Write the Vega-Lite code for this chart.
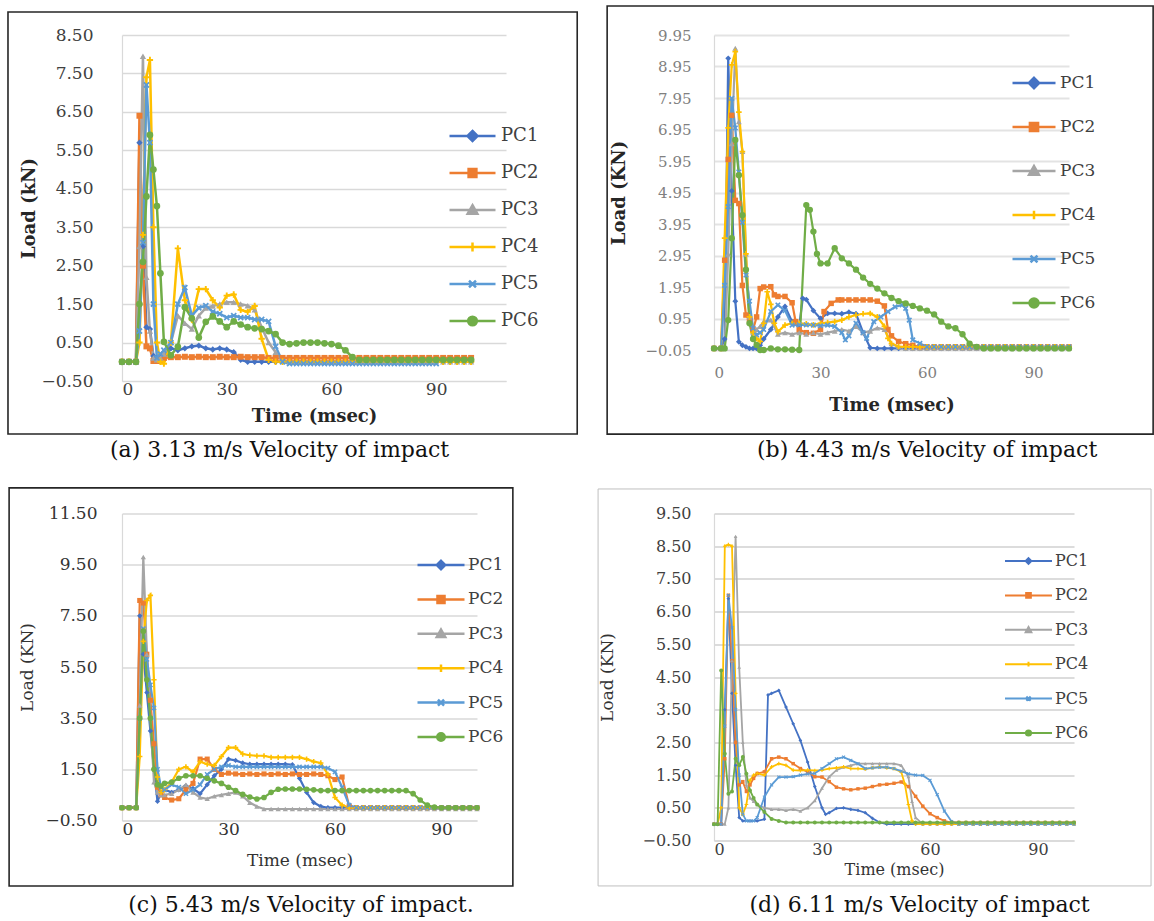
{
"$schema":"https://vega.github.io/schema/vega-lite/v6.json",
"padding":{"left":7,"top":5,"right":1,"bottom":1},
"autosize":{"type":"pad"},
"background":"white",
"config":{
 "view":{"stroke":null},
 "font":"DejaVu Serif",
 "axis":{"labelFont":"DejaVu Serif","titleFont":"DejaVu Serif","ticks":false,"labelOverlap":false,"tickCount":40,"domainColor":"#D9D9D9","domainWidth":1.2,"gridColor":"#D9D9D9","gridWidth":1.3},
 "axisX":{"grid":false},
 "legend":{"labelFont":"DejaVu Serif","labelColor":"#404040","symbolOpacity":1},
 "title":{"font":"DejaVu Serif","fontWeight":"normal","color":"#111111","fontSize":22,"frame":"bounds","orient":"bottom","anchor":"middle"}
},
"datasets":{
"a":[
{"t":0,"s":"PC1","v":0},{"t":2,"s":"PC1","v":0},{"t":4,"s":"PC1","v":0},{"t":5,"s":"PC1","v":5.7},{"t":6,"s":"PC1","v":3},{"t":7,"s":"PC1","v":0.9},{"t":8,"s":"PC1","v":0.85},{"t":9,"s":"PC1","v":0.15},{"t":10,"s":"PC1","v":0.05},{"t":11,"s":"PC1","v":0.1},{"t":12,"s":"PC1","v":0.15},{"t":14,"s":"PC1","v":0.35},{"t":16,"s":"PC1","v":0.3},{"t":18,"s":"PC1","v":0.35},{"t":20,"s":"PC1","v":0.4},{"t":22,"s":"PC1","v":0.42},{"t":24,"s":"PC1","v":0.35},{"t":26,"s":"PC1","v":0.32},{"t":28,"s":"PC1","v":0.35},{"t":30,"s":"PC1","v":0.32},{"t":32,"s":"PC1","v":0.25},{"t":34,"s":"PC1","v":0.05},{"t":36,"s":"PC1","v":0},{"t":38,"s":"PC1","v":0},{"t":40,"s":"PC1","v":0},{"t":42,"s":"PC1","v":0},{"t":44,"s":"PC1","v":0},{"t":46,"s":"PC1","v":0},{"t":48,"s":"PC1","v":0},{"t":50,"s":"PC1","v":0},{"t":52,"s":"PC1","v":0},{"t":54,"s":"PC1","v":0},{"t":56,"s":"PC1","v":0},{"t":58,"s":"PC1","v":0},{"t":60,"s":"PC1","v":0},{"t":62,"s":"PC1","v":0},{"t":64,"s":"PC1","v":0},{"t":66,"s":"PC1","v":0},{"t":68,"s":"PC1","v":0},{"t":70,"s":"PC1","v":0},{"t":72,"s":"PC1","v":0},{"t":74,"s":"PC1","v":0},{"t":76,"s":"PC1","v":0},{"t":78,"s":"PC1","v":0},{"t":80,"s":"PC1","v":0},{"t":82,"s":"PC1","v":0},{"t":84,"s":"PC1","v":0},{"t":86,"s":"PC1","v":0},{"t":88,"s":"PC1","v":0},{"t":90,"s":"PC1","v":0},{"t":92,"s":"PC1","v":0},{"t":94,"s":"PC1","v":0},{"t":96,"s":"PC1","v":0},{"t":98,"s":"PC1","v":0},{"t":100,"s":"PC1","v":0},
{"t":0,"s":"PC2","v":0},{"t":2,"s":"PC2","v":0},{"t":4,"s":"PC2","v":0},{"t":5,"s":"PC2","v":6.4},{"t":6,"s":"PC2","v":2.5},{"t":7,"s":"PC2","v":0.4},{"t":8,"s":"PC2","v":0.35},{"t":9,"s":"PC2","v":0.02},{"t":10,"s":"PC2","v":0.02},{"t":11,"s":"PC2","v":0.05},{"t":12,"s":"PC2","v":0.1},{"t":14,"s":"PC2","v":0.12},{"t":16,"s":"PC2","v":0.12},{"t":18,"s":"PC2","v":0.13},{"t":20,"s":"PC2","v":0.12},{"t":22,"s":"PC2","v":0.13},{"t":24,"s":"PC2","v":0.12},{"t":26,"s":"PC2","v":0.12},{"t":28,"s":"PC2","v":0.13},{"t":30,"s":"PC2","v":0.12},{"t":32,"s":"PC2","v":0.12},{"t":34,"s":"PC2","v":0.13},{"t":36,"s":"PC2","v":0.12},{"t":38,"s":"PC2","v":0.12},{"t":40,"s":"PC2","v":0.12},{"t":42,"s":"PC2","v":0.1},{"t":44,"s":"PC2","v":0.1},{"t":46,"s":"PC2","v":0.1},{"t":48,"s":"PC2","v":0.1},{"t":50,"s":"PC2","v":0.1},{"t":52,"s":"PC2","v":0.1},{"t":54,"s":"PC2","v":0.1},{"t":56,"s":"PC2","v":0.1},{"t":58,"s":"PC2","v":0.1},{"t":60,"s":"PC2","v":0.1},{"t":62,"s":"PC2","v":0.1},{"t":64,"s":"PC2","v":0.1},{"t":66,"s":"PC2","v":0.1},{"t":68,"s":"PC2","v":0.1},{"t":70,"s":"PC2","v":0.1},{"t":72,"s":"PC2","v":0.1},{"t":74,"s":"PC2","v":0.1},{"t":76,"s":"PC2","v":0.1},{"t":78,"s":"PC2","v":0.1},{"t":80,"s":"PC2","v":0.1},{"t":82,"s":"PC2","v":0.1},{"t":84,"s":"PC2","v":0.1},{"t":86,"s":"PC2","v":0.1},{"t":88,"s":"PC2","v":0.1},{"t":90,"s":"PC2","v":0.1},{"t":92,"s":"PC2","v":0.1},{"t":94,"s":"PC2","v":0.1},{"t":96,"s":"PC2","v":0.1},{"t":98,"s":"PC2","v":0.1},{"t":100,"s":"PC2","v":0.1},
{"t":0,"s":"PC3","v":0},{"t":2,"s":"PC3","v":0},{"t":4,"s":"PC3","v":0},{"t":5,"s":"PC3","v":3},{"t":6,"s":"PC3","v":7.95},{"t":7,"s":"PC3","v":2.2},{"t":8,"s":"PC3","v":0.8},{"t":9,"s":"PC3","v":0.1},{"t":10,"s":"PC3","v":0.05},{"t":11,"s":"PC3","v":0.1},{"t":12,"s":"PC3","v":0.2},{"t":14,"s":"PC3","v":0.5},{"t":16,"s":"PC3","v":1.2},{"t":18,"s":"PC3","v":1},{"t":20,"s":"PC3","v":0.85},{"t":22,"s":"PC3","v":1.2},{"t":24,"s":"PC3","v":1.4},{"t":26,"s":"PC3","v":1.45},{"t":28,"s":"PC3","v":1.5},{"t":30,"s":"PC3","v":1.55},{"t":32,"s":"PC3","v":1.55},{"t":34,"s":"PC3","v":1.5},{"t":36,"s":"PC3","v":1.46},{"t":38,"s":"PC3","v":1.35},{"t":40,"s":"PC3","v":0.9},{"t":42,"s":"PC3","v":0.5},{"t":44,"s":"PC3","v":0.25},{"t":46,"s":"PC3","v":0.02},{"t":48,"s":"PC3","v":0},{"t":50,"s":"PC3","v":0},{"t":52,"s":"PC3","v":0},{"t":54,"s":"PC3","v":0},{"t":56,"s":"PC3","v":0},{"t":58,"s":"PC3","v":0},{"t":60,"s":"PC3","v":0},{"t":62,"s":"PC3","v":0},{"t":64,"s":"PC3","v":0},{"t":66,"s":"PC3","v":0},{"t":68,"s":"PC3","v":0},{"t":70,"s":"PC3","v":0},{"t":72,"s":"PC3","v":0},{"t":74,"s":"PC3","v":0},{"t":76,"s":"PC3","v":0},{"t":78,"s":"PC3","v":0},{"t":80,"s":"PC3","v":0},{"t":82,"s":"PC3","v":0},{"t":84,"s":"PC3","v":0},{"t":86,"s":"PC3","v":0},{"t":88,"s":"PC3","v":0},{"t":90,"s":"PC3","v":0},{"t":92,"s":"PC3","v":0},{"t":94,"s":"PC3","v":0},{"t":96,"s":"PC3","v":0},{"t":98,"s":"PC3","v":0},{"t":100,"s":"PC3","v":0},
{"t":0,"s":"PC4","v":0},{"t":2,"s":"PC4","v":0},{"t":4,"s":"PC4","v":0},{"t":5,"s":"PC4","v":0.5},{"t":6,"s":"PC4","v":3.3},{"t":7,"s":"PC4","v":7.4},{"t":8,"s":"PC4","v":7.85},{"t":9,"s":"PC4","v":3.5},{"t":10,"s":"PC4","v":0.5},{"t":11,"s":"PC4","v":0},{"t":12,"s":"PC4","v":-0.05},{"t":14,"s":"PC4","v":0.5},{"t":16,"s":"PC4","v":2.95},{"t":18,"s":"PC4","v":1.6},{"t":20,"s":"PC4","v":1.1},{"t":22,"s":"PC4","v":1.89},{"t":24,"s":"PC4","v":1.89},{"t":26,"s":"PC4","v":1.6},{"t":28,"s":"PC4","v":1.41},{"t":30,"s":"PC4","v":1.72},{"t":32,"s":"PC4","v":1.75},{"t":34,"s":"PC4","v":1.35},{"t":36,"s":"PC4","v":1.3},{"t":38,"s":"PC4","v":1.45},{"t":40,"s":"PC4","v":0.6},{"t":42,"s":"PC4","v":0.05},{"t":44,"s":"PC4","v":0},{"t":46,"s":"PC4","v":0},{"t":48,"s":"PC4","v":0},{"t":50,"s":"PC4","v":0},{"t":52,"s":"PC4","v":0},{"t":54,"s":"PC4","v":0},{"t":56,"s":"PC4","v":0},{"t":58,"s":"PC4","v":0},{"t":60,"s":"PC4","v":0},{"t":62,"s":"PC4","v":0},{"t":64,"s":"PC4","v":0},{"t":66,"s":"PC4","v":0},{"t":68,"s":"PC4","v":0},{"t":70,"s":"PC4","v":0},{"t":72,"s":"PC4","v":0},{"t":74,"s":"PC4","v":0},{"t":76,"s":"PC4","v":0},{"t":78,"s":"PC4","v":0},{"t":80,"s":"PC4","v":0},{"t":82,"s":"PC4","v":0},{"t":84,"s":"PC4","v":0},{"t":86,"s":"PC4","v":0},{"t":88,"s":"PC4","v":0},{"t":90,"s":"PC4","v":0},{"t":92,"s":"PC4","v":0},{"t":94,"s":"PC4","v":0},{"t":96,"s":"PC4","v":0},{"t":98,"s":"PC4","v":0},{"t":100,"s":"PC4","v":0},
{"t":0,"s":"PC5","v":0},{"t":2,"s":"PC5","v":0},{"t":4,"s":"PC5","v":0},{"t":5,"s":"PC5","v":0.8},{"t":6,"s":"PC5","v":3.1},{"t":7,"s":"PC5","v":7.2},{"t":8,"s":"PC5","v":5.7},{"t":9,"s":"PC5","v":1.5},{"t":10,"s":"PC5","v":0.1},{"t":11,"s":"PC5","v":0.2},{"t":12,"s":"PC5","v":0.3},{"t":14,"s":"PC5","v":0.5},{"t":16,"s":"PC5","v":1.5},{"t":18,"s":"PC5","v":1.93},{"t":20,"s":"PC5","v":1.2},{"t":22,"s":"PC5","v":1.4},{"t":24,"s":"PC5","v":1.46},{"t":26,"s":"PC5","v":1.3},{"t":28,"s":"PC5","v":1.25},{"t":30,"s":"PC5","v":1.15},{"t":32,"s":"PC5","v":1.2},{"t":34,"s":"PC5","v":1.15},{"t":36,"s":"PC5","v":1.15},{"t":38,"s":"PC5","v":1.1},{"t":40,"s":"PC5","v":1.1},{"t":42,"s":"PC5","v":1.05},{"t":44,"s":"PC5","v":0.4},{"t":46,"s":"PC5","v":0},{"t":48,"s":"PC5","v":-0.05},{"t":50,"s":"PC5","v":-0.05},{"t":52,"s":"PC5","v":-0.05},{"t":54,"s":"PC5","v":-0.05},{"t":56,"s":"PC5","v":-0.05},{"t":58,"s":"PC5","v":-0.05},{"t":60,"s":"PC5","v":-0.05},{"t":62,"s":"PC5","v":-0.05},{"t":64,"s":"PC5","v":-0.05},{"t":66,"s":"PC5","v":-0.05},{"t":68,"s":"PC5","v":-0.05},{"t":70,"s":"PC5","v":-0.05},{"t":72,"s":"PC5","v":-0.05},{"t":74,"s":"PC5","v":-0.05},{"t":76,"s":"PC5","v":-0.05},{"t":78,"s":"PC5","v":-0.05},{"t":80,"s":"PC5","v":-0.05},{"t":82,"s":"PC5","v":-0.05},{"t":84,"s":"PC5","v":-0.05},{"t":86,"s":"PC5","v":-0.05},{"t":88,"s":"PC5","v":-0.05},{"t":90,"s":"PC5","v":-0.05},
{"t":0,"s":"PC6","v":0},{"t":2,"s":"PC6","v":0},{"t":4,"s":"PC6","v":0},{"t":5,"s":"PC6","v":1.5},{"t":6,"s":"PC6","v":2.6},{"t":7,"s":"PC6","v":4.3},{"t":8,"s":"PC6","v":5.9},{"t":9,"s":"PC6","v":5},{"t":10,"s":"PC6","v":4.05},{"t":11,"s":"PC6","v":2.3},{"t":12,"s":"PC6","v":0.52},{"t":14,"s":"PC6","v":0.17},{"t":16,"s":"PC6","v":0.39},{"t":18,"s":"PC6","v":1.42},{"t":20,"s":"PC6","v":1.13},{"t":22,"s":"PC6","v":0.63},{"t":24,"s":"PC6","v":1.04},{"t":26,"s":"PC6","v":1.18},{"t":28,"s":"PC6","v":1.05},{"t":30,"s":"PC6","v":0.9},{"t":32,"s":"PC6","v":1.05},{"t":34,"s":"PC6","v":0.97},{"t":36,"s":"PC6","v":0.9},{"t":38,"s":"PC6","v":0.87},{"t":40,"s":"PC6","v":0.85},{"t":42,"s":"PC6","v":0.8},{"t":44,"s":"PC6","v":0.72},{"t":46,"s":"PC6","v":0.5},{"t":48,"s":"PC6","v":0.46},{"t":50,"s":"PC6","v":0.48},{"t":52,"s":"PC6","v":0.5},{"t":54,"s":"PC6","v":0.5},{"t":56,"s":"PC6","v":0.5},{"t":58,"s":"PC6","v":0.48},{"t":60,"s":"PC6","v":0.46},{"t":62,"s":"PC6","v":0.42},{"t":64,"s":"PC6","v":0.3},{"t":66,"s":"PC6","v":0.12},{"t":68,"s":"PC6","v":0.05},{"t":70,"s":"PC6","v":0.05},{"t":72,"s":"PC6","v":0.05},{"t":74,"s":"PC6","v":0.05},{"t":76,"s":"PC6","v":0.05},{"t":78,"s":"PC6","v":0.05},{"t":80,"s":"PC6","v":0.05},{"t":82,"s":"PC6","v":0.05},{"t":84,"s":"PC6","v":0.05},{"t":86,"s":"PC6","v":0.05},{"t":88,"s":"PC6","v":0.05},{"t":90,"s":"PC6","v":0.05},{"t":92,"s":"PC6","v":0.05},{"t":94,"s":"PC6","v":0.05},{"t":96,"s":"PC6","v":0.05},{"t":98,"s":"PC6","v":0.05},{"t":100,"s":"PC6","v":0.05}
],
"b":[
{"t":0,"s":"PC1","v":0},{"t":2,"s":"PC1","v":0},{"t":3,"s":"PC1","v":0.3},{"t":4,"s":"PC1","v":9.21},{"t":5,"s":"PC1","v":5},{"t":6,"s":"PC1","v":1.5},{"t":7,"s":"PC1","v":0.21},{"t":8,"s":"PC1","v":0.1},{"t":9,"s":"PC1","v":0.05},{"t":10,"s":"PC1","v":0},{"t":11,"s":"PC1","v":0},{"t":12,"s":"PC1","v":0},{"t":13,"s":"PC1","v":0.1},{"t":14,"s":"PC1","v":0.3},{"t":16,"s":"PC1","v":0.6},{"t":18,"s":"PC1","v":1},{"t":20,"s":"PC1","v":1.33},{"t":22,"s":"PC1","v":0.85},{"t":24,"s":"PC1","v":0.7},{"t":25,"s":"PC1","v":1.59},{"t":26,"s":"PC1","v":1.55},{"t":28,"s":"PC1","v":1.2},{"t":30,"s":"PC1","v":0.95},{"t":32,"s":"PC1","v":1.11},{"t":34,"s":"PC1","v":1.11},{"t":36,"s":"PC1","v":1.1},{"t":38,"s":"PC1","v":1.15},{"t":40,"s":"PC1","v":1.1},{"t":42,"s":"PC1","v":0.5},{"t":44,"s":"PC1","v":0.02},{"t":46,"s":"PC1","v":0},{"t":48,"s":"PC1","v":0},{"t":50,"s":"PC1","v":0},{"t":52,"s":"PC1","v":0},{"t":54,"s":"PC1","v":0},{"t":56,"s":"PC1","v":0},{"t":58,"s":"PC1","v":0},{"t":60,"s":"PC1","v":0},{"t":62,"s":"PC1","v":0},{"t":64,"s":"PC1","v":0},{"t":66,"s":"PC1","v":0},{"t":68,"s":"PC1","v":0},{"t":70,"s":"PC1","v":0},{"t":72,"s":"PC1","v":0},{"t":74,"s":"PC1","v":0},{"t":76,"s":"PC1","v":0},{"t":78,"s":"PC1","v":0},{"t":80,"s":"PC1","v":0},{"t":82,"s":"PC1","v":0},{"t":84,"s":"PC1","v":0},{"t":86,"s":"PC1","v":0},{"t":88,"s":"PC1","v":0},{"t":90,"s":"PC1","v":0},{"t":92,"s":"PC1","v":0},{"t":94,"s":"PC1","v":0},{"t":96,"s":"PC1","v":0},{"t":98,"s":"PC1","v":0},{"t":100,"s":"PC1","v":0},
{"t":0,"s":"PC2","v":0},{"t":2,"s":"PC2","v":0},{"t":3,"s":"PC2","v":2.8},{"t":4,"s":"PC2","v":6},{"t":5,"s":"PC2","v":7.4},{"t":6,"s":"PC2","v":4.7},{"t":7,"s":"PC2","v":4.6},{"t":8,"s":"PC2","v":2},{"t":9,"s":"PC2","v":1.06},{"t":10,"s":"PC2","v":0.9},{"t":11,"s":"PC2","v":0.6},{"t":12,"s":"PC2","v":1},{"t":13,"s":"PC2","v":1.9},{"t":14,"s":"PC2","v":1.95},{"t":16,"s":"PC2","v":1.96},{"t":17,"s":"PC2","v":1.7},{"t":18,"s":"PC2","v":1.65},{"t":20,"s":"PC2","v":1.65},{"t":22,"s":"PC2","v":1.45},{"t":23,"s":"PC2","v":0.85},{"t":24,"s":"PC2","v":0.6},{"t":26,"s":"PC2","v":0.5},{"t":28,"s":"PC2","v":0.48},{"t":30,"s":"PC2","v":0.6},{"t":31,"s":"PC2","v":1.17},{"t":33,"s":"PC2","v":1.43},{"t":35,"s":"PC2","v":1.54},{"t":36,"s":"PC2","v":1.54},{"t":38,"s":"PC2","v":1.54},{"t":40,"s":"PC2","v":1.54},{"t":42,"s":"PC2","v":1.54},{"t":44,"s":"PC2","v":1.54},{"t":46,"s":"PC2","v":1.5},{"t":48,"s":"PC2","v":1.35},{"t":49,"s":"PC2","v":0.6},{"t":50,"s":"PC2","v":0.4},{"t":52,"s":"PC2","v":0.22},{"t":54,"s":"PC2","v":0.15},{"t":56,"s":"PC2","v":0.1},{"t":58,"s":"PC2","v":0.05},{"t":60,"s":"PC2","v":0.05},{"t":62,"s":"PC2","v":0.05},{"t":64,"s":"PC2","v":0.05},{"t":66,"s":"PC2","v":0.05},{"t":68,"s":"PC2","v":0.05},{"t":70,"s":"PC2","v":0.05},{"t":72,"s":"PC2","v":0.05},{"t":74,"s":"PC2","v":0.05},{"t":76,"s":"PC2","v":0.05},{"t":78,"s":"PC2","v":0.05},{"t":80,"s":"PC2","v":0.05},{"t":82,"s":"PC2","v":0.05},{"t":84,"s":"PC2","v":0.05},{"t":86,"s":"PC2","v":0.05},{"t":88,"s":"PC2","v":0.05},{"t":90,"s":"PC2","v":0.05},{"t":92,"s":"PC2","v":0.05},{"t":94,"s":"PC2","v":0.05},{"t":96,"s":"PC2","v":0.05},{"t":98,"s":"PC2","v":0.05},{"t":100,"s":"PC2","v":0.05},
{"t":0,"s":"PC3","v":0},{"t":2,"s":"PC3","v":0},{"t":3,"s":"PC3","v":0},{"t":4,"s":"PC3","v":3},{"t":5,"s":"PC3","v":6.5},{"t":6,"s":"PC3","v":9.53},{"t":7,"s":"PC3","v":7.2},{"t":8,"s":"PC3","v":6.25},{"t":9,"s":"PC3","v":3},{"t":10,"s":"PC3","v":1},{"t":11,"s":"PC3","v":0.5},{"t":12,"s":"PC3","v":0.6},{"t":13,"s":"PC3","v":0.7},{"t":14,"s":"PC3","v":0.85},{"t":16,"s":"PC3","v":0.9},{"t":18,"s":"PC3","v":0.45},{"t":20,"s":"PC3","v":0.5},{"t":22,"s":"PC3","v":0.45},{"t":24,"s":"PC3","v":0.5},{"t":26,"s":"PC3","v":0.45},{"t":28,"s":"PC3","v":0.5},{"t":30,"s":"PC3","v":0.45},{"t":32,"s":"PC3","v":0.5},{"t":34,"s":"PC3","v":0.55},{"t":36,"s":"PC3","v":0.6},{"t":38,"s":"PC3","v":0.55},{"t":40,"s":"PC3","v":0.7},{"t":42,"s":"PC3","v":0.5},{"t":44,"s":"PC3","v":0.55},{"t":46,"s":"PC3","v":0.65},{"t":48,"s":"PC3","v":0.6},{"t":50,"s":"PC3","v":0.15},{"t":52,"s":"PC3","v":0.05},{"t":54,"s":"PC3","v":0},{"t":56,"s":"PC3","v":0},{"t":58,"s":"PC3","v":0},{"t":60,"s":"PC3","v":0},{"t":62,"s":"PC3","v":0},{"t":64,"s":"PC3","v":0},{"t":66,"s":"PC3","v":0},{"t":68,"s":"PC3","v":0},{"t":70,"s":"PC3","v":0},{"t":72,"s":"PC3","v":0},{"t":74,"s":"PC3","v":0},{"t":76,"s":"PC3","v":0},{"t":78,"s":"PC3","v":0},{"t":80,"s":"PC3","v":0},{"t":82,"s":"PC3","v":0},{"t":84,"s":"PC3","v":0},{"t":86,"s":"PC3","v":0},{"t":88,"s":"PC3","v":0},{"t":90,"s":"PC3","v":0},{"t":92,"s":"PC3","v":0},{"t":94,"s":"PC3","v":0},{"t":96,"s":"PC3","v":0},{"t":98,"s":"PC3","v":0},{"t":100,"s":"PC3","v":0},
{"t":0,"s":"PC4","v":0},{"t":2,"s":"PC4","v":0},{"t":3,"s":"PC4","v":3.5},{"t":4,"s":"PC4","v":7},{"t":5,"s":"PC4","v":9},{"t":6,"s":"PC4","v":9.42},{"t":7,"s":"PC4","v":7.5},{"t":8,"s":"PC4","v":6.25},{"t":9,"s":"PC4","v":3},{"t":10,"s":"PC4","v":1},{"t":11,"s":"PC4","v":0.5},{"t":12,"s":"PC4","v":0.32},{"t":13,"s":"PC4","v":0.22},{"t":14,"s":"PC4","v":0.8},{"t":15,"s":"PC4","v":1.8},{"t":16,"s":"PC4","v":1.4},{"t":17,"s":"PC4","v":0.8},{"t":18,"s":"PC4","v":0.53},{"t":20,"s":"PC4","v":0.74},{"t":22,"s":"PC4","v":0.8},{"t":24,"s":"PC4","v":0.8},{"t":26,"s":"PC4","v":0.78},{"t":28,"s":"PC4","v":0.75},{"t":30,"s":"PC4","v":0.8},{"t":32,"s":"PC4","v":0.82},{"t":34,"s":"PC4","v":0.85},{"t":36,"s":"PC4","v":0.9},{"t":38,"s":"PC4","v":1},{"t":40,"s":"PC4","v":1.06},{"t":42,"s":"PC4","v":1.1},{"t":44,"s":"PC4","v":1.11},{"t":46,"s":"PC4","v":1},{"t":48,"s":"PC4","v":0.7},{"t":49,"s":"PC4","v":0.32},{"t":50,"s":"PC4","v":0.15},{"t":52,"s":"PC4","v":0.06},{"t":54,"s":"PC4","v":0.05},{"t":56,"s":"PC4","v":0.05},{"t":58,"s":"PC4","v":0.05},{"t":60,"s":"PC4","v":0.05},{"t":62,"s":"PC4","v":0.05},{"t":64,"s":"PC4","v":0.05},{"t":66,"s":"PC4","v":0.05},{"t":68,"s":"PC4","v":0.05},{"t":70,"s":"PC4","v":0.05},{"t":72,"s":"PC4","v":0.05},{"t":74,"s":"PC4","v":0.05},{"t":76,"s":"PC4","v":0.05},{"t":78,"s":"PC4","v":0.05},{"t":80,"s":"PC4","v":0.05},{"t":82,"s":"PC4","v":0.05},{"t":84,"s":"PC4","v":0.05},{"t":86,"s":"PC4","v":0.05},{"t":88,"s":"PC4","v":0.05},{"t":90,"s":"PC4","v":0.05},{"t":92,"s":"PC4","v":0.05},{"t":94,"s":"PC4","v":0.05},{"t":96,"s":"PC4","v":0.05},{"t":98,"s":"PC4","v":0.05},{"t":100,"s":"PC4","v":0.05},
{"t":0,"s":"PC5","v":0},{"t":2,"s":"PC5","v":0},{"t":3,"s":"PC5","v":2},{"t":4,"s":"PC5","v":4.5},{"t":5,"s":"PC5","v":7.94},{"t":6,"s":"PC5","v":7},{"t":7,"s":"PC5","v":5.6},{"t":8,"s":"PC5","v":4},{"t":9,"s":"PC5","v":2.33},{"t":10,"s":"PC5","v":1.5},{"t":11,"s":"PC5","v":0.64},{"t":12,"s":"PC5","v":0.43},{"t":13,"s":"PC5","v":0.5},{"t":14,"s":"PC5","v":0.6},{"t":16,"s":"PC5","v":1.17},{"t":18,"s":"PC5","v":1.38},{"t":20,"s":"PC5","v":1.2},{"t":22,"s":"PC5","v":0.74},{"t":24,"s":"PC5","v":0.75},{"t":26,"s":"PC5","v":0.75},{"t":28,"s":"PC5","v":0.74},{"t":30,"s":"PC5","v":0.72},{"t":32,"s":"PC5","v":0.74},{"t":34,"s":"PC5","v":0.7},{"t":36,"s":"PC5","v":0.5},{"t":37,"s":"PC5","v":0.27},{"t":38,"s":"PC5","v":0.4},{"t":40,"s":"PC5","v":0.8},{"t":42,"s":"PC5","v":0.5},{"t":43,"s":"PC5","v":0.32},{"t":45,"s":"PC5","v":0.85},{"t":47,"s":"PC5","v":1},{"t":49,"s":"PC5","v":1.17},{"t":51,"s":"PC5","v":1.32},{"t":53,"s":"PC5","v":1.38},{"t":54,"s":"PC5","v":1.27},{"t":55,"s":"PC5","v":0.9},{"t":56,"s":"PC5","v":0.27},{"t":58,"s":"PC5","v":0.16},{"t":60,"s":"PC5","v":0.05},{"t":62,"s":"PC5","v":0.05},{"t":64,"s":"PC5","v":0.05},{"t":66,"s":"PC5","v":0.05},{"t":68,"s":"PC5","v":0.05},{"t":70,"s":"PC5","v":0.05},{"t":72,"s":"PC5","v":0.05},{"t":74,"s":"PC5","v":0.05},{"t":76,"s":"PC5","v":0.05},{"t":78,"s":"PC5","v":0.05},{"t":80,"s":"PC5","v":0.05},{"t":82,"s":"PC5","v":0.05},{"t":84,"s":"PC5","v":0.05},{"t":86,"s":"PC5","v":0.05},{"t":88,"s":"PC5","v":0.05},{"t":90,"s":"PC5","v":0.05},{"t":92,"s":"PC5","v":0.05},{"t":94,"s":"PC5","v":0.05},{"t":96,"s":"PC5","v":0.05},{"t":98,"s":"PC5","v":0.05},{"t":100,"s":"PC5","v":0.05},
{"t":0,"s":"PC6","v":0},{"t":2,"s":"PC6","v":0},{"t":3,"s":"PC6","v":0},{"t":4,"s":"PC6","v":0.9},{"t":5,"s":"PC6","v":3.5},{"t":6,"s":"PC6","v":6.62},{"t":7,"s":"PC6","v":5.5},{"t":8,"s":"PC6","v":4.23},{"t":9,"s":"PC6","v":2.5},{"t":10,"s":"PC6","v":0.8},{"t":11,"s":"PC6","v":0.3},{"t":12,"s":"PC6","v":0.11},{"t":13,"s":"PC6","v":-0.05},{"t":14,"s":"PC6","v":-0.05},{"t":16,"s":"PC6","v":0},{"t":18,"s":"PC6","v":-0.03},{"t":20,"s":"PC6","v":-0.03},{"t":22,"s":"PC6","v":-0.04},{"t":24,"s":"PC6","v":-0.05},{"t":26,"s":"PC6","v":4.55},{"t":27,"s":"PC6","v":4.4},{"t":28,"s":"PC6","v":3.71},{"t":29,"s":"PC6","v":3},{"t":30,"s":"PC6","v":2.7},{"t":32,"s":"PC6","v":2.7},{"t":34,"s":"PC6","v":3.18},{"t":36,"s":"PC6","v":2.86},{"t":38,"s":"PC6","v":2.7},{"t":40,"s":"PC6","v":2.5},{"t":42,"s":"PC6","v":2.25},{"t":44,"s":"PC6","v":2.05},{"t":46,"s":"PC6","v":1.9},{"t":48,"s":"PC6","v":1.75},{"t":50,"s":"PC6","v":1.6},{"t":52,"s":"PC6","v":1.5},{"t":54,"s":"PC6","v":1.43},{"t":56,"s":"PC6","v":1.35},{"t":58,"s":"PC6","v":1.27},{"t":60,"s":"PC6","v":1.2},{"t":62,"s":"PC6","v":1.08},{"t":64,"s":"PC6","v":0.85},{"t":66,"s":"PC6","v":0.7},{"t":68,"s":"PC6","v":0.64},{"t":70,"s":"PC6","v":0.45},{"t":72,"s":"PC6","v":0.15},{"t":74,"s":"PC6","v":0.05},{"t":76,"s":"PC6","v":0},{"t":78,"s":"PC6","v":0},{"t":80,"s":"PC6","v":0},{"t":82,"s":"PC6","v":0},{"t":84,"s":"PC6","v":0},{"t":86,"s":"PC6","v":0},{"t":88,"s":"PC6","v":0},{"t":90,"s":"PC6","v":0},{"t":92,"s":"PC6","v":0},{"t":94,"s":"PC6","v":0},{"t":96,"s":"PC6","v":0},{"t":98,"s":"PC6","v":0},{"t":100,"s":"PC6","v":0}
],
"c":[
{"t":0,"s":"PC1","v":0},{"t":2,"s":"PC1","v":0},{"t":4,"s":"PC1","v":0},{"t":5,"s":"PC1","v":7.5},{"t":6,"s":"PC1","v":6},{"t":7,"s":"PC1","v":4.5},{"t":8,"s":"PC1","v":3},{"t":9,"s":"PC1","v":1.5},{"t":10,"s":"PC1","v":0.25},{"t":11,"s":"PC1","v":0.6},{"t":12,"s":"PC1","v":0.7},{"t":14,"s":"PC1","v":0.6},{"t":16,"s":"PC1","v":0.7},{"t":18,"s":"PC1","v":0.85},{"t":20,"s":"PC1","v":0.75},{"t":22,"s":"PC1","v":0.55},{"t":24,"s":"PC1","v":0.9},{"t":26,"s":"PC1","v":1.25},{"t":28,"s":"PC1","v":1.5},{"t":30,"s":"PC1","v":1.9},{"t":32,"s":"PC1","v":1.85},{"t":34,"s":"PC1","v":1.75},{"t":36,"s":"PC1","v":1.7},{"t":38,"s":"PC1","v":1.7},{"t":40,"s":"PC1","v":1.7},{"t":42,"s":"PC1","v":1.7},{"t":44,"s":"PC1","v":1.7},{"t":46,"s":"PC1","v":1.7},{"t":48,"s":"PC1","v":1.68},{"t":50,"s":"PC1","v":1.15},{"t":52,"s":"PC1","v":0.6},{"t":54,"s":"PC1","v":0.2},{"t":56,"s":"PC1","v":0.05},{"t":58,"s":"PC1","v":0},{"t":60,"s":"PC1","v":0},{"t":62,"s":"PC1","v":0},{"t":64,"s":"PC1","v":0},{"t":66,"s":"PC1","v":0},{"t":68,"s":"PC1","v":0},{"t":70,"s":"PC1","v":0},{"t":72,"s":"PC1","v":0},{"t":74,"s":"PC1","v":0},{"t":76,"s":"PC1","v":0},{"t":78,"s":"PC1","v":0},{"t":80,"s":"PC1","v":0},{"t":82,"s":"PC1","v":0},{"t":84,"s":"PC1","v":0},{"t":86,"s":"PC1","v":0},{"t":88,"s":"PC1","v":0},{"t":90,"s":"PC1","v":0},{"t":92,"s":"PC1","v":0},{"t":94,"s":"PC1","v":0},{"t":96,"s":"PC1","v":0},{"t":98,"s":"PC1","v":0},{"t":100,"s":"PC1","v":0},
{"t":0,"s":"PC2","v":0},{"t":2,"s":"PC2","v":0},{"t":4,"s":"PC2","v":0},{"t":5,"s":"PC2","v":8.1},{"t":6,"s":"PC2","v":8},{"t":7,"s":"PC2","v":6},{"t":8,"s":"PC2","v":4.2},{"t":9,"s":"PC2","v":2.5},{"t":10,"s":"PC2","v":0.8},{"t":11,"s":"PC2","v":0.5},{"t":12,"s":"PC2","v":0.4},{"t":14,"s":"PC2","v":0.3},{"t":16,"s":"PC2","v":0.35},{"t":18,"s":"PC2","v":0.7},{"t":20,"s":"PC2","v":0.95},{"t":22,"s":"PC2","v":1.9},{"t":24,"s":"PC2","v":1.9},{"t":26,"s":"PC2","v":1.5},{"t":28,"s":"PC2","v":1.3},{"t":30,"s":"PC2","v":1.35},{"t":32,"s":"PC2","v":1.32},{"t":34,"s":"PC2","v":1.3},{"t":36,"s":"PC2","v":1.32},{"t":38,"s":"PC2","v":1.3},{"t":40,"s":"PC2","v":1.32},{"t":42,"s":"PC2","v":1.3},{"t":44,"s":"PC2","v":1.32},{"t":46,"s":"PC2","v":1.3},{"t":48,"s":"PC2","v":1.32},{"t":50,"s":"PC2","v":1.3},{"t":52,"s":"PC2","v":1.3},{"t":54,"s":"PC2","v":1.32},{"t":56,"s":"PC2","v":1.3},{"t":58,"s":"PC2","v":1.25},{"t":60,"s":"PC2","v":1.1},{"t":62,"s":"PC2","v":1.2},{"t":64,"s":"PC2","v":0.05},{"t":66,"s":"PC2","v":0},{"t":68,"s":"PC2","v":0},{"t":70,"s":"PC2","v":0},{"t":72,"s":"PC2","v":0},{"t":74,"s":"PC2","v":0},{"t":76,"s":"PC2","v":0},{"t":78,"s":"PC2","v":0},{"t":80,"s":"PC2","v":0},{"t":82,"s":"PC2","v":0},{"t":84,"s":"PC2","v":0},{"t":86,"s":"PC2","v":0},{"t":88,"s":"PC2","v":0},{"t":90,"s":"PC2","v":0},{"t":92,"s":"PC2","v":0},{"t":94,"s":"PC2","v":0},{"t":96,"s":"PC2","v":0},{"t":98,"s":"PC2","v":0},{"t":100,"s":"PC2","v":0},
{"t":0,"s":"PC3","v":0},{"t":2,"s":"PC3","v":0},{"t":4,"s":"PC3","v":0},{"t":5,"s":"PC3","v":4},{"t":6,"s":"PC3","v":9.8},{"t":7,"s":"PC3","v":6},{"t":8,"s":"PC3","v":3.5},{"t":9,"s":"PC3","v":1},{"t":10,"s":"PC3","v":0.6},{"t":11,"s":"PC3","v":0.5},{"t":12,"s":"PC3","v":0.5},{"t":14,"s":"PC3","v":0.55},{"t":16,"s":"PC3","v":0.7},{"t":18,"s":"PC3","v":0.9},{"t":20,"s":"PC3","v":0.6},{"t":22,"s":"PC3","v":0.4},{"t":24,"s":"PC3","v":0.35},{"t":26,"s":"PC3","v":0.45},{"t":28,"s":"PC3","v":0.5},{"t":30,"s":"PC3","v":0.55},{"t":32,"s":"PC3","v":0.6},{"t":34,"s":"PC3","v":0.45},{"t":36,"s":"PC3","v":0.2},{"t":38,"s":"PC3","v":0.05},{"t":40,"s":"PC3","v":-0.05},{"t":42,"s":"PC3","v":-0.05},{"t":44,"s":"PC3","v":-0.05},{"t":46,"s":"PC3","v":-0.05},{"t":48,"s":"PC3","v":-0.05},{"t":50,"s":"PC3","v":-0.05},{"t":52,"s":"PC3","v":-0.05},{"t":54,"s":"PC3","v":-0.05},{"t":56,"s":"PC3","v":-0.05},{"t":58,"s":"PC3","v":-0.05},{"t":60,"s":"PC3","v":-0.05},{"t":62,"s":"PC3","v":-0.05},{"t":64,"s":"PC3","v":-0.05},{"t":66,"s":"PC3","v":-0.05},{"t":68,"s":"PC3","v":-0.05},{"t":70,"s":"PC3","v":-0.05},{"t":72,"s":"PC3","v":-0.05},{"t":74,"s":"PC3","v":-0.05},{"t":76,"s":"PC3","v":-0.05},{"t":78,"s":"PC3","v":-0.05},{"t":80,"s":"PC3","v":-0.05},{"t":82,"s":"PC3","v":-0.05},{"t":84,"s":"PC3","v":-0.05},{"t":86,"s":"PC3","v":-0.05},{"t":88,"s":"PC3","v":-0.05},{"t":90,"s":"PC3","v":-0.05},{"t":92,"s":"PC3","v":-0.05},{"t":94,"s":"PC3","v":-0.05},{"t":96,"s":"PC3","v":-0.05},{"t":98,"s":"PC3","v":-0.05},{"t":100,"s":"PC3","v":-0.05},
{"t":0,"s":"PC4","v":0},{"t":2,"s":"PC4","v":0},{"t":4,"s":"PC4","v":0},{"t":5,"s":"PC4","v":2},{"t":6,"s":"PC4","v":6.5},{"t":7,"s":"PC4","v":8.1},{"t":8,"s":"PC4","v":8.3},{"t":9,"s":"PC4","v":5},{"t":10,"s":"PC4","v":1.2},{"t":11,"s":"PC4","v":0.6},{"t":12,"s":"PC4","v":0.7},{"t":14,"s":"PC4","v":1},{"t":16,"s":"PC4","v":1.5},{"t":18,"s":"PC4","v":1.6},{"t":20,"s":"PC4","v":1.4},{"t":22,"s":"PC4","v":1.8},{"t":24,"s":"PC4","v":1.7},{"t":26,"s":"PC4","v":1.65},{"t":28,"s":"PC4","v":2},{"t":30,"s":"PC4","v":2.35},{"t":32,"s":"PC4","v":2.35},{"t":34,"s":"PC4","v":2.1},{"t":36,"s":"PC4","v":2.05},{"t":38,"s":"PC4","v":2.03},{"t":40,"s":"PC4","v":2.03},{"t":42,"s":"PC4","v":1.97},{"t":44,"s":"PC4","v":1.97},{"t":46,"s":"PC4","v":1.97},{"t":48,"s":"PC4","v":1.97},{"t":50,"s":"PC4","v":1.97},{"t":52,"s":"PC4","v":1.9},{"t":54,"s":"PC4","v":1.8},{"t":56,"s":"PC4","v":1.75},{"t":58,"s":"PC4","v":1.3},{"t":60,"s":"PC4","v":0.4},{"t":62,"s":"PC4","v":0.1},{"t":64,"s":"PC4","v":0},{"t":66,"s":"PC4","v":0},{"t":68,"s":"PC4","v":0},{"t":70,"s":"PC4","v":0},{"t":72,"s":"PC4","v":0},{"t":74,"s":"PC4","v":0},{"t":76,"s":"PC4","v":0},{"t":78,"s":"PC4","v":0},{"t":80,"s":"PC4","v":0},{"t":82,"s":"PC4","v":0},{"t":84,"s":"PC4","v":0},{"t":86,"s":"PC4","v":0},{"t":88,"s":"PC4","v":0},{"t":90,"s":"PC4","v":0},{"t":92,"s":"PC4","v":0},{"t":94,"s":"PC4","v":0},{"t":96,"s":"PC4","v":0},{"t":98,"s":"PC4","v":0},{"t":100,"s":"PC4","v":0},
{"t":0,"s":"PC5","v":0},{"t":2,"s":"PC5","v":0},{"t":4,"s":"PC5","v":0},{"t":5,"s":"PC5","v":3.5},{"t":6,"s":"PC5","v":7},{"t":7,"s":"PC5","v":5.8},{"t":8,"s":"PC5","v":4.8},{"t":9,"s":"PC5","v":3.9},{"t":10,"s":"PC5","v":1.5},{"t":11,"s":"PC5","v":0.8},{"t":12,"s":"PC5","v":0.7},{"t":14,"s":"PC5","v":0.9},{"t":16,"s":"PC5","v":0.8},{"t":18,"s":"PC5","v":0.55},{"t":20,"s":"PC5","v":0.7},{"t":22,"s":"PC5","v":0.9},{"t":24,"s":"PC5","v":1.3},{"t":26,"s":"PC5","v":1.5},{"t":28,"s":"PC5","v":1.6},{"t":30,"s":"PC5","v":1.65},{"t":32,"s":"PC5","v":1.6},{"t":34,"s":"PC5","v":1.6},{"t":36,"s":"PC5","v":1.6},{"t":38,"s":"PC5","v":1.6},{"t":40,"s":"PC5","v":1.6},{"t":42,"s":"PC5","v":1.6},{"t":44,"s":"PC5","v":1.6},{"t":46,"s":"PC5","v":1.6},{"t":48,"s":"PC5","v":1.6},{"t":50,"s":"PC5","v":1.6},{"t":52,"s":"PC5","v":1.6},{"t":54,"s":"PC5","v":1.6},{"t":56,"s":"PC5","v":1.6},{"t":58,"s":"PC5","v":1.55},{"t":60,"s":"PC5","v":1.4},{"t":62,"s":"PC5","v":0.8},{"t":64,"s":"PC5","v":0.1},{"t":66,"s":"PC5","v":0},{"t":68,"s":"PC5","v":0},{"t":70,"s":"PC5","v":0},{"t":72,"s":"PC5","v":0},{"t":74,"s":"PC5","v":0},{"t":76,"s":"PC5","v":0},{"t":78,"s":"PC5","v":0},{"t":80,"s":"PC5","v":0},{"t":82,"s":"PC5","v":0},{"t":84,"s":"PC5","v":0},{"t":86,"s":"PC5","v":0},{"t":88,"s":"PC5","v":0},{"t":90,"s":"PC5","v":0},{"t":92,"s":"PC5","v":0},{"t":94,"s":"PC5","v":0},{"t":96,"s":"PC5","v":0},{"t":98,"s":"PC5","v":0},{"t":100,"s":"PC5","v":0},
{"t":0,"s":"PC6","v":0},{"t":2,"s":"PC6","v":0},{"t":4,"s":"PC6","v":0},{"t":5,"s":"PC6","v":3.5},{"t":6,"s":"PC6","v":6.9},{"t":7,"s":"PC6","v":5},{"t":8,"s":"PC6","v":3.5},{"t":9,"s":"PC6","v":1.5},{"t":10,"s":"PC6","v":0.9},{"t":11,"s":"PC6","v":0.85},{"t":12,"s":"PC6","v":0.95},{"t":14,"s":"PC6","v":1},{"t":16,"s":"PC6","v":1.15},{"t":18,"s":"PC6","v":1.25},{"t":20,"s":"PC6","v":1.25},{"t":22,"s":"PC6","v":1.25},{"t":24,"s":"PC6","v":1.15},{"t":26,"s":"PC6","v":1.05},{"t":28,"s":"PC6","v":0.95},{"t":30,"s":"PC6","v":0.8},{"t":32,"s":"PC6","v":0.67},{"t":34,"s":"PC6","v":0.52},{"t":36,"s":"PC6","v":0.42},{"t":38,"s":"PC6","v":0.34},{"t":40,"s":"PC6","v":0.4},{"t":42,"s":"PC6","v":0.6},{"t":44,"s":"PC6","v":0.72},{"t":46,"s":"PC6","v":0.73},{"t":48,"s":"PC6","v":0.73},{"t":50,"s":"PC6","v":0.73},{"t":52,"s":"PC6","v":0.72},{"t":54,"s":"PC6","v":0.7},{"t":56,"s":"PC6","v":0.67},{"t":58,"s":"PC6","v":0.67},{"t":60,"s":"PC6","v":0.67},{"t":62,"s":"PC6","v":0.67},{"t":64,"s":"PC6","v":0.67},{"t":66,"s":"PC6","v":0.67},{"t":68,"s":"PC6","v":0.67},{"t":70,"s":"PC6","v":0.67},{"t":72,"s":"PC6","v":0.67},{"t":74,"s":"PC6","v":0.67},{"t":76,"s":"PC6","v":0.67},{"t":78,"s":"PC6","v":0.67},{"t":80,"s":"PC6","v":0.67},{"t":82,"s":"PC6","v":0.55},{"t":84,"s":"PC6","v":0.3},{"t":86,"s":"PC6","v":0.1},{"t":88,"s":"PC6","v":0.02},{"t":90,"s":"PC6","v":0},{"t":92,"s":"PC6","v":0},{"t":94,"s":"PC6","v":0},{"t":96,"s":"PC6","v":0},{"t":98,"s":"PC6","v":0},{"t":100,"s":"PC6","v":0}
],
"d":[
{"t":0,"s":"PC1","v":0},{"t":1,"s":"PC1","v":0},{"t":2,"s":"PC1","v":0},{"t":3,"s":"PC1","v":3.5},{"t":4,"s":"PC1","v":6.9},{"t":5,"s":"PC1","v":4},{"t":6,"s":"PC1","v":1.8},{"t":7,"s":"PC1","v":0.2},{"t":8,"s":"PC1","v":0.1},{"t":10,"s":"PC1","v":0.1},{"t":12,"s":"PC1","v":0.1},{"t":14,"s":"PC1","v":0.15},{"t":15,"s":"PC1","v":3.95},{"t":16,"s":"PC1","v":4},{"t":18,"s":"PC1","v":4.09},{"t":20,"s":"PC1","v":3.58},{"t":22,"s":"PC1","v":3.07},{"t":24,"s":"PC1","v":2.56},{"t":26,"s":"PC1","v":1.9},{"t":28,"s":"PC1","v":1.15},{"t":30,"s":"PC1","v":0.5},{"t":31,"s":"PC1","v":0.3},{"t":32,"s":"PC1","v":0.35},{"t":34,"s":"PC1","v":0.48},{"t":36,"s":"PC1","v":0.5},{"t":38,"s":"PC1","v":0.45},{"t":40,"s":"PC1","v":0.42},{"t":42,"s":"PC1","v":0.35},{"t":44,"s":"PC1","v":0.18},{"t":46,"s":"PC1","v":0.05},{"t":48,"s":"PC1","v":0},{"t":50,"s":"PC1","v":0},{"t":52,"s":"PC1","v":0},{"t":54,"s":"PC1","v":0},{"t":56,"s":"PC1","v":0},{"t":58,"s":"PC1","v":0},{"t":60,"s":"PC1","v":0},{"t":62,"s":"PC1","v":0},{"t":64,"s":"PC1","v":0},{"t":66,"s":"PC1","v":0},{"t":68,"s":"PC1","v":0},{"t":70,"s":"PC1","v":0},{"t":72,"s":"PC1","v":0},{"t":74,"s":"PC1","v":0},{"t":76,"s":"PC1","v":0},{"t":78,"s":"PC1","v":0},{"t":80,"s":"PC1","v":0},{"t":82,"s":"PC1","v":0},{"t":84,"s":"PC1","v":0},{"t":86,"s":"PC1","v":0},{"t":88,"s":"PC1","v":0},{"t":90,"s":"PC1","v":0},{"t":92,"s":"PC1","v":0},{"t":94,"s":"PC1","v":0},{"t":96,"s":"PC1","v":0},{"t":98,"s":"PC1","v":0},{"t":100,"s":"PC1","v":0},
{"t":0,"s":"PC2","v":0},{"t":1,"s":"PC2","v":0},{"t":2,"s":"PC2","v":0},{"t":3,"s":"PC2","v":2},{"t":4,"s":"PC2","v":7},{"t":5,"s":"PC2","v":5},{"t":6,"s":"PC2","v":2.5},{"t":7,"s":"PC2","v":1.2},{"t":8,"s":"PC2","v":1.3},{"t":9,"s":"PC2","v":1},{"t":10,"s":"PC2","v":1.2},{"t":11,"s":"PC2","v":1.4},{"t":12,"s":"PC2","v":1.55},{"t":14,"s":"PC2","v":1.6},{"t":16,"s":"PC2","v":2},{"t":18,"s":"PC2","v":2.05},{"t":20,"s":"PC2","v":2},{"t":22,"s":"PC2","v":1.85},{"t":24,"s":"PC2","v":1.7},{"t":26,"s":"PC2","v":1.6},{"t":28,"s":"PC2","v":1.45},{"t":30,"s":"PC2","v":1.44},{"t":32,"s":"PC2","v":1.3},{"t":34,"s":"PC2","v":1.13},{"t":36,"s":"PC2","v":1.08},{"t":38,"s":"PC2","v":1.05},{"t":40,"s":"PC2","v":1.08},{"t":42,"s":"PC2","v":1.1},{"t":44,"s":"PC2","v":1.15},{"t":46,"s":"PC2","v":1.2},{"t":48,"s":"PC2","v":1.22},{"t":50,"s":"PC2","v":1.25},{"t":52,"s":"PC2","v":1.29},{"t":54,"s":"PC2","v":1.15},{"t":56,"s":"PC2","v":0.85},{"t":58,"s":"PC2","v":0.55},{"t":60,"s":"PC2","v":0.32},{"t":62,"s":"PC2","v":0.2},{"t":64,"s":"PC2","v":0.1},{"t":66,"s":"PC2","v":0.05},{"t":68,"s":"PC2","v":0.05},{"t":70,"s":"PC2","v":0.05},{"t":72,"s":"PC2","v":0.05},{"t":74,"s":"PC2","v":0.05},{"t":76,"s":"PC2","v":0.05},{"t":78,"s":"PC2","v":0.05},{"t":80,"s":"PC2","v":0.05},{"t":82,"s":"PC2","v":0.05},{"t":84,"s":"PC2","v":0.05},{"t":86,"s":"PC2","v":0.05},{"t":88,"s":"PC2","v":0.05},{"t":90,"s":"PC2","v":0.05},{"t":92,"s":"PC2","v":0.05},{"t":94,"s":"PC2","v":0.05},{"t":96,"s":"PC2","v":0.05},{"t":98,"s":"PC2","v":0.05},{"t":100,"s":"PC2","v":0.05},
{"t":0,"s":"PC3","v":0},{"t":1,"s":"PC3","v":0},{"t":2,"s":"PC3","v":0},{"t":3,"s":"PC3","v":0},{"t":4,"s":"PC3","v":0.5},{"t":5,"s":"PC3","v":5},{"t":6,"s":"PC3","v":8.8},{"t":7,"s":"PC3","v":4.8},{"t":8,"s":"PC3","v":2.5},{"t":9,"s":"PC3","v":1.2},{"t":10,"s":"PC3","v":0.8},{"t":11,"s":"PC3","v":0.7},{"t":12,"s":"PC3","v":0.6},{"t":14,"s":"PC3","v":0.5},{"t":16,"s":"PC3","v":0.45},{"t":18,"s":"PC3","v":0.45},{"t":20,"s":"PC3","v":0.42},{"t":22,"s":"PC3","v":0.45},{"t":24,"s":"PC3","v":0.4},{"t":26,"s":"PC3","v":0.5},{"t":28,"s":"PC3","v":0.72},{"t":30,"s":"PC3","v":1.1},{"t":32,"s":"PC3","v":1.45},{"t":34,"s":"PC3","v":1.65},{"t":36,"s":"PC3","v":1.74},{"t":38,"s":"PC3","v":1.8},{"t":40,"s":"PC3","v":1.85},{"t":42,"s":"PC3","v":1.85},{"t":44,"s":"PC3","v":1.85},{"t":46,"s":"PC3","v":1.85},{"t":48,"s":"PC3","v":1.85},{"t":50,"s":"PC3","v":1.85},{"t":52,"s":"PC3","v":1.8},{"t":54,"s":"PC3","v":1.45},{"t":55,"s":"PC3","v":0.7},{"t":56,"s":"PC3","v":0.2},{"t":58,"s":"PC3","v":0},{"t":60,"s":"PC3","v":0},{"t":62,"s":"PC3","v":0},{"t":64,"s":"PC3","v":0},{"t":66,"s":"PC3","v":0},{"t":68,"s":"PC3","v":0},{"t":70,"s":"PC3","v":0},{"t":72,"s":"PC3","v":0},{"t":74,"s":"PC3","v":0},{"t":76,"s":"PC3","v":0},{"t":78,"s":"PC3","v":0},{"t":80,"s":"PC3","v":0},{"t":82,"s":"PC3","v":0},{"t":84,"s":"PC3","v":0},{"t":86,"s":"PC3","v":0},{"t":88,"s":"PC3","v":0},{"t":90,"s":"PC3","v":0},{"t":92,"s":"PC3","v":0},{"t":94,"s":"PC3","v":0},{"t":96,"s":"PC3","v":0},{"t":98,"s":"PC3","v":0},{"t":100,"s":"PC3","v":0},
{"t":0,"s":"PC4","v":0},{"t":1,"s":"PC4","v":0},{"t":2,"s":"PC4","v":0.5},{"t":3,"s":"PC4","v":8.5},{"t":4,"s":"PC4","v":8.55},{"t":5,"s":"PC4","v":8.5},{"t":6,"s":"PC4","v":4},{"t":7,"s":"PC4","v":0.5},{"t":8,"s":"PC4","v":0.3},{"t":9,"s":"PC4","v":0.6},{"t":10,"s":"PC4","v":1.34},{"t":11,"s":"PC4","v":1.5},{"t":12,"s":"PC4","v":1.55},{"t":14,"s":"PC4","v":1.5},{"t":16,"s":"PC4","v":1.75},{"t":18,"s":"PC4","v":1.85},{"t":20,"s":"PC4","v":1.8},{"t":22,"s":"PC4","v":1.65},{"t":24,"s":"PC4","v":1.64},{"t":26,"s":"PC4","v":1.65},{"t":28,"s":"PC4","v":1.64},{"t":30,"s":"PC4","v":1.65},{"t":32,"s":"PC4","v":1.7},{"t":34,"s":"PC4","v":1.72},{"t":36,"s":"PC4","v":1.75},{"t":38,"s":"PC4","v":1.7},{"t":40,"s":"PC4","v":1.7},{"t":42,"s":"PC4","v":1.68},{"t":44,"s":"PC4","v":1.72},{"t":46,"s":"PC4","v":1.75},{"t":48,"s":"PC4","v":1.72},{"t":50,"s":"PC4","v":1.7},{"t":52,"s":"PC4","v":1.6},{"t":53,"s":"PC4","v":1.23},{"t":54,"s":"PC4","v":0.6},{"t":55,"s":"PC4","v":0.1},{"t":56,"s":"PC4","v":0},{"t":58,"s":"PC4","v":0},{"t":60,"s":"PC4","v":0},{"t":62,"s":"PC4","v":0},{"t":64,"s":"PC4","v":0},{"t":66,"s":"PC4","v":0},{"t":68,"s":"PC4","v":0},{"t":70,"s":"PC4","v":0},{"t":72,"s":"PC4","v":0},{"t":74,"s":"PC4","v":0},{"t":76,"s":"PC4","v":0},{"t":78,"s":"PC4","v":0},{"t":80,"s":"PC4","v":0},{"t":82,"s":"PC4","v":0},{"t":84,"s":"PC4","v":0},{"t":86,"s":"PC4","v":0},{"t":88,"s":"PC4","v":0},{"t":90,"s":"PC4","v":0},{"t":92,"s":"PC4","v":0},{"t":94,"s":"PC4","v":0},{"t":96,"s":"PC4","v":0},{"t":98,"s":"PC4","v":0},{"t":100,"s":"PC4","v":0},
{"t":0,"s":"PC5","v":0},{"t":1,"s":"PC5","v":0},{"t":2,"s":"PC5","v":0},{"t":3,"s":"PC5","v":3},{"t":4,"s":"PC5","v":7},{"t":5,"s":"PC5","v":6},{"t":6,"s":"PC5","v":3.5},{"t":7,"s":"PC5","v":1.5},{"t":8,"s":"PC5","v":0.3},{"t":9,"s":"PC5","v":0.1},{"t":10,"s":"PC5","v":0.1},{"t":11,"s":"PC5","v":0.1},{"t":12,"s":"PC5","v":0.2},{"t":14,"s":"PC5","v":0.83},{"t":16,"s":"PC5","v":1.2},{"t":18,"s":"PC5","v":1.44},{"t":20,"s":"PC5","v":1.44},{"t":22,"s":"PC5","v":1.45},{"t":24,"s":"PC5","v":1.5},{"t":26,"s":"PC5","v":1.54},{"t":28,"s":"PC5","v":1.55},{"t":30,"s":"PC5","v":1.7},{"t":32,"s":"PC5","v":1.85},{"t":34,"s":"PC5","v":2},{"t":36,"s":"PC5","v":2.05},{"t":38,"s":"PC5","v":1.95},{"t":40,"s":"PC5","v":1.85},{"t":42,"s":"PC5","v":1.7},{"t":44,"s":"PC5","v":1.72},{"t":46,"s":"PC5","v":1.74},{"t":48,"s":"PC5","v":1.74},{"t":50,"s":"PC5","v":1.7},{"t":52,"s":"PC5","v":1.62},{"t":54,"s":"PC5","v":1.54},{"t":56,"s":"PC5","v":1.5},{"t":58,"s":"PC5","v":1.49},{"t":60,"s":"PC5","v":1.34},{"t":62,"s":"PC5","v":0.9},{"t":64,"s":"PC5","v":0.4},{"t":66,"s":"PC5","v":0.08},{"t":68,"s":"PC5","v":0},{"t":70,"s":"PC5","v":0},{"t":72,"s":"PC5","v":0},{"t":74,"s":"PC5","v":0},{"t":76,"s":"PC5","v":0},{"t":78,"s":"PC5","v":0},{"t":80,"s":"PC5","v":0},{"t":82,"s":"PC5","v":0},{"t":84,"s":"PC5","v":0},{"t":86,"s":"PC5","v":0},{"t":88,"s":"PC5","v":0},{"t":90,"s":"PC5","v":0},{"t":92,"s":"PC5","v":0},{"t":94,"s":"PC5","v":0},{"t":96,"s":"PC5","v":0},{"t":98,"s":"PC5","v":0},{"t":100,"s":"PC5","v":0},
{"t":0,"s":"PC6","v":0},{"t":1,"s":"PC6","v":0},{"t":2,"s":"PC6","v":4.7},{"t":3,"s":"PC6","v":2.15},{"t":4,"s":"PC6","v":0.93},{"t":5,"s":"PC6","v":1},{"t":6,"s":"PC6","v":2},{"t":7,"s":"PC6","v":1.8},{"t":8,"s":"PC6","v":2.05},{"t":9,"s":"PC6","v":1.54},{"t":10,"s":"PC6","v":1.03},{"t":11,"s":"PC6","v":0.8},{"t":12,"s":"PC6","v":0.6},{"t":14,"s":"PC6","v":0.37},{"t":16,"s":"PC6","v":0.16},{"t":18,"s":"PC6","v":0.1},{"t":20,"s":"PC6","v":0.05},{"t":22,"s":"PC6","v":0.05},{"t":24,"s":"PC6","v":0.05},{"t":26,"s":"PC6","v":0.05},{"t":28,"s":"PC6","v":0.05},{"t":30,"s":"PC6","v":0.05},{"t":32,"s":"PC6","v":0.05},{"t":34,"s":"PC6","v":0.05},{"t":36,"s":"PC6","v":0.05},{"t":38,"s":"PC6","v":0.05},{"t":40,"s":"PC6","v":0.05},{"t":42,"s":"PC6","v":0.05},{"t":44,"s":"PC6","v":0.05},{"t":46,"s":"PC6","v":0.05},{"t":48,"s":"PC6","v":0.05},{"t":50,"s":"PC6","v":0.05},{"t":52,"s":"PC6","v":0.05},{"t":54,"s":"PC6","v":0.05},{"t":56,"s":"PC6","v":0.05},{"t":58,"s":"PC6","v":0.05},{"t":60,"s":"PC6","v":0.05},{"t":62,"s":"PC6","v":0.05},{"t":64,"s":"PC6","v":0.05},{"t":66,"s":"PC6","v":0.05},{"t":68,"s":"PC6","v":0.05},{"t":70,"s":"PC6","v":0.05},{"t":72,"s":"PC6","v":0.05},{"t":74,"s":"PC6","v":0.05},{"t":76,"s":"PC6","v":0.05},{"t":78,"s":"PC6","v":0.05},{"t":80,"s":"PC6","v":0.05},{"t":82,"s":"PC6","v":0.05},{"t":84,"s":"PC6","v":0.05},{"t":86,"s":"PC6","v":0.05},{"t":88,"s":"PC6","v":0.05},{"t":90,"s":"PC6","v":0.05},{"t":92,"s":"PC6","v":0.05},{"t":94,"s":"PC6","v":0.05},{"t":96,"s":"PC6","v":0.05},{"t":98,"s":"PC6","v":0.05},{"t":100,"s":"PC6","v":0.05}
]
},
"columns":2,
"bounds":"flush",
"align":"all",
"spacing":{"row":132.5,"column":208},
"resolve":{"scale":{"color":"independent","shape":"independent"}},
"concat":[
{
 "width":384,"height":346,
 "title":{"text":"(a) 3.13 m/s Velocity of impact","offset":5,"dx":-13},
 "layer":[
  {"data":{"values":[{}]},"mark":{"type":"rect","fillOpacity":0,"stroke":"#262626","strokeWidth":1.6},"encoding":{"x":{"datum":-32.66},"x2":{"datum":130.4},"y":{"datum":9.1},"y2":{"datum":-1.88}}},
  {"data":{"name":"a"},
   "encoding":{
    "x":{"field":"t","type":"quantitative","scale":{"domain":[0,110],"nice":false,"zero":false},"axis":{"values":[0,30,60,90],"tickCount":40,"title":"Time (msec)","labelFontSize":17,"labelColor":"#404040","labelPadding":0,"titleFontSize":18,"titleFontWeight":"bold","titleColor":"#262626","titlePadding":10}},
    "y":{"field":"v","type":"quantitative","scale":{"domain":[-0.5,8.5],"nice":false,"zero":false},"axis":{"values":[-0.5,0.5,1.5,2.5,3.5,4.5,5.5,6.5,7.5,8.5],"tickCount":40,"format":".2f","title":"Load (kN)","grid":true,"labelFontSize":17,"labelColor":"#404040","labelPadding":29,"titleFontSize":18,"titleFontWeight":"bold","titleColor":"#262626","titlePadding":2}}
   },
   "layer":[
    {"data":{"values":[{"s":"PC1"},{"s":"PC2"},{"s":"PC3"},{"s":"PC4"},{"s":"PC5"},{"s":"PC6"}]},"mark":{"type":"point","filled":true,"size":0},"encoding":{"color":{"field":"s","type":"nominal","scale":{"domain":["PC1","PC2","PC3","PC4","PC5","PC6"],"range":["#4472C4","#ED7D31","#A5A5A5","#FFC000","#5B9BD5","#70AD47"]},"legend":{"orient":"none","legendX":326,"legendY":93,"title":null,"symbolSize":2116,"clipHeight":16,"rowPadding":19,"labelFontSize":18,"labelOffset":4,"symbolStrokeWidth":2.5,"symbolOpacity":1}},"shape":{"field":"s","type":"nominal","scale":{"domain":["PC1","PC2","PC3","PC4","PC5","PC6"],"range":["M-1,0H1M0,-0.22L0.22,0L0,0.22L-0.22,0Z","M-1,0H1M-0.17,-0.17H0.17V0.17H-0.17Z","M-1,0H1M0,-0.21L0.21,0.16H-0.21Z","M-1,0H1M0,-0.2V0.2","M-1,0H1M-0.15,-0.15L0.15,0.15M-0.15,0.15L0.15,-0.15","M-1,0H1M-0.19,0A0.19,0.19,0,1,1,0.19,0A0.19,0.19,0,1,1,-0.19,0Z"]}}}},
    {"mark":{"type":"line","strokeWidth":2.5},"encoding":{"color":{"field":"s","type":"nominal","scale":{"domain":["PC1","PC2","PC3","PC4","PC5","PC6"],"range":["#4472C4","#ED7D31","#A5A5A5","#FFC000","#5B9BD5","#70AD47"]}}}},
    {"transform":[{"filter":"datum.s==='PC1'"}],"mark":{"type":"point","shape":"diamond","filled":true,"size":40,"color":"#4472C4","opacity":1}},
    {"transform":[{"filter":"datum.s==='PC2'"}],"mark":{"type":"point","shape":"square","filled":true,"size":36,"color":"#ED7D31","opacity":1}},
    {"transform":[{"filter":"datum.s==='PC3'"}],"mark":{"type":"point","shape":"triangle-up","filled":true,"size":40,"color":"#A5A5A5","opacity":1}},
    {"transform":[{"filter":"datum.s==='PC4'"}],"mark":{"type":"point","shape":"M-0.3,-1H0.3V-0.3H1V0.3H0.3V1H-0.3V0.3H-1V-0.3H-0.3Z","filled":true,"size":40,"color":"#FFC000","opacity":1}},
    {"transform":[{"filter":"datum.s==='PC5'"}],"mark":{"type":"point","shape":"M-1,-0.6L-0.6,-1L0,-0.4L0.6,-1L1,-0.6L0.4,0L1,0.6L0.6,1L0,0.4L-0.6,1L-1,0.6L-0.4,0Z","filled":true,"size":40,"color":"#5B9BD5","opacity":1}},
    {"transform":[{"filter":"datum.s==='PC6'"}],"mark":{"type":"point","shape":"circle","filled":true,"size":45,"color":"#70AD47","opacity":1}}
   ]}
 ]
},
{
 "width":355,"height":315,
 "title":{"text":"(b) 4.43 m/s Velocity of impact","offset":5,"dx":47},
 "layer":[
  {"data":{"values":[{}]},"mark":{"type":"rect","fillOpacity":0,"stroke":"#262626","strokeWidth":1.6},"encoding":{"x":{"datum":-30.1},"x2":{"datum":123.7},"y":{"datum":10.87},"y2":{"datum":-2.72}}},
  {"data":{"name":"b"},
   "encoding":{
    "x":{"field":"t","type":"quantitative","scale":{"domain":[0,100],"nice":false,"zero":false},"axis":{"values":[0,30,60,90],"tickCount":40,"title":"Time (msec)","labelFontSize":15,"labelColor":"#808080","labelPadding":15,"titleFontSize":18,"titleFontWeight":"bold","titleColor":"#262626","titlePadding":16}},
    "y":{"field":"v","type":"quantitative","scale":{"domain":[-0.05,9.95],"nice":false,"zero":false},"axis":{"values":[-0.05,0.95,1.95,2.95,3.95,4.95,5.95,6.95,7.95,8.95,9.95],"tickCount":40,"format":".2f","title":"Load (KN)","grid":true,"gridColor":"#E3E3E3","gridWidth":1.8,"labelFontSize":15,"labelColor":"#808080","labelPadding":23,"titleFontSize":18,"titleFontWeight":"bold","titleColor":"#262626","titlePadding":17}}
   },
   "layer":[
    {"data":{"values":[{"s":"PC1"},{"s":"PC2"},{"s":"PC3"},{"s":"PC4"},{"s":"PC5"},{"s":"PC6"}]},"mark":{"type":"point","filled":true,"size":0},"encoding":{"color":{"field":"s","type":"nominal","scale":{"domain":["PC1","PC2","PC3","PC4","PC5","PC6"],"range":["#4472C4","#ED7D31","#A5A5A5","#FFC000","#5B9BD5","#70AD47"]},"legend":{"orient":"none","legendX":297,"legendY":40,"title":null,"symbolSize":1849,"clipHeight":16,"rowPadding":27,"labelFontSize":17,"labelOffset":3,"symbolStrokeWidth":2.5,"symbolOpacity":1}},"shape":{"field":"s","type":"nominal","scale":{"domain":["PC1","PC2","PC3","PC4","PC5","PC6"],"range":["M-1,0H1M0,-0.24L0.24,0L0,0.24L-0.24,0Z","M-1,0H1M-0.19,-0.19H0.19V0.19H-0.19Z","M-1,0H1M0,-0.23L0.23,0.18H-0.23Z","M-1,0H1M0,-0.2V0.2","M-1,0H1M-0.16,-0.16L0.16,0.16M-0.16,0.16L0.16,-0.16","M-1,0H1M-0.21,0A0.21,0.21,0,1,1,0.21,0A0.21,0.21,0,1,1,-0.21,0Z"]}}}},
    {"mark":{"type":"line","strokeWidth":2.2},"encoding":{"color":{"field":"s","type":"nominal","scale":{"domain":["PC1","PC2","PC3","PC4","PC5","PC6"],"range":["#4472C4","#ED7D31","#A5A5A5","#FFC000","#5B9BD5","#70AD47"]}}}},
    {"transform":[{"filter":"datum.s==='PC1'"}],"mark":{"type":"point","shape":"diamond","filled":true,"size":34,"color":"#4472C4","opacity":1}},
    {"transform":[{"filter":"datum.s==='PC2'"}],"mark":{"type":"point","shape":"square","filled":true,"size":30,"color":"#ED7D31","opacity":1}},
    {"transform":[{"filter":"datum.s==='PC3'"}],"mark":{"type":"point","shape":"triangle-up","filled":true,"size":34,"color":"#A5A5A5","opacity":1}},
    {"transform":[{"filter":"datum.s==='PC4'"}],"mark":{"type":"point","shape":"M-0.3,-1H0.3V-0.3H1V0.3H0.3V1H-0.3V0.3H-1V-0.3H-0.3Z","filled":true,"size":32,"color":"#FFC000","opacity":1}},
    {"transform":[{"filter":"datum.s==='PC5'"}],"mark":{"type":"point","shape":"M-1,-0.6L-0.6,-1L0,-0.4L0.6,-1L1,-0.6L0.4,0L1,0.6L0.6,1L0,0.4L-0.6,1L-1,0.6L-0.4,0Z","filled":true,"size":32,"color":"#5B9BD5","opacity":1}},
    {"transform":[{"filter":"datum.s==='PC6'"}],"mark":{"type":"point","shape":"circle","filled":true,"size":40,"color":"#70AD47","opacity":1}}
   ]}
 ]
},
{
 "width":355,"height":307,
 "title":{"text":"(c) 5.43 m/s Velocity of impact.","offset":8,"dx":40},
 "layer":[
  {"data":{"values":[{}]},"mark":{"type":"rect","fillOpacity":0,"stroke":"#262626","strokeWidth":1.6},"encoding":{"x":{"datum":-31.8},"x2":{"datum":110.1},"y":{"datum":12.5},"y2":{"datum":-3.06}}},
  {"data":{"name":"c"},
   "encoding":{
    "x":{"field":"t","type":"quantitative","scale":{"domain":[0,100],"nice":false,"zero":false},"axis":{"values":[0,30,60,90],"tickCount":40,"title":"Time (msec)","labelFontSize":17,"labelColor":"#333333","labelPadding":1,"titleFontSize":17,"titleFontWeight":"normal","titleColor":"#333333","titlePadding":15}},
    "y":{"field":"v","type":"quantitative","scale":{"domain":[-0.5,11.5],"nice":false,"zero":false},"axis":{"values":[-0.5,1.5,3.5,5.5,7.5,9.5,11.5],"tickCount":40,"format":".2f","title":"Load (KN)","grid":true,"labelFontSize":17,"labelColor":"#333333","labelPadding":25,"titleFontSize":17,"titleFontWeight":"normal","titleColor":"#333333","titlePadding":8}}
   },
   "layer":[
    {"data":{"values":[{"s":"PC1"},{"s":"PC2"},{"s":"PC3"},{"s":"PC4"},{"s":"PC5"},{"s":"PC6"}]},"mark":{"type":"point","filled":true,"size":0},"encoding":{"color":{"field":"s","type":"nominal","scale":{"domain":["PC1","PC2","PC3","PC4","PC5","PC6"],"range":["#4472C4","#ED7D31","#A5A5A5","#FFC000","#5B9BD5","#70AD47"]},"legend":{"orient":"none","legendX":294,"legendY":43.5,"title":null,"symbolSize":2209,"clipHeight":16,"rowPadding":17.4,"labelFontSize":17,"labelOffset":2,"symbolStrokeWidth":2.5,"symbolOpacity":1}},"shape":{"field":"s","type":"nominal","scale":{"domain":["PC1","PC2","PC3","PC4","PC5","PC6"],"range":["M-1,0H1M0,-0.18L0.18,0L0,0.18L-0.18,0Z","M-1,0H1M-0.15,-0.15H0.15V0.15H-0.15Z","M-1,0H1M0,-0.18L0.18,0.14H-0.18Z","M-1,0H1M0,-0.16V0.16","M-1,0H1M-0.13,-0.13L0.13,0.13M-0.13,0.13L0.13,-0.13","M-1,0H1M-0.16,0A0.16,0.16,0,1,1,0.16,0A0.16,0.16,0,1,1,-0.16,0Z"]}}}},
    {"mark":{"type":"line","strokeWidth":2.2},"encoding":{"color":{"field":"s","type":"nominal","scale":{"domain":["PC1","PC2","PC3","PC4","PC5","PC6"],"range":["#4472C4","#ED7D31","#A5A5A5","#FFC000","#5B9BD5","#70AD47"]}}}},
    {"transform":[{"filter":"datum.s==='PC1'"}],"mark":{"type":"point","shape":"diamond","filled":true,"size":28,"color":"#4472C4","opacity":1}},
    {"transform":[{"filter":"datum.s==='PC2'"}],"mark":{"type":"point","shape":"square","filled":true,"size":26,"color":"#ED7D31","opacity":1}},
    {"transform":[{"filter":"datum.s==='PC3'"}],"mark":{"type":"point","shape":"triangle-up","filled":true,"size":28,"color":"#A5A5A5","opacity":1}},
    {"transform":[{"filter":"datum.s==='PC4'"}],"mark":{"type":"point","shape":"M-0.3,-1H0.3V-0.3H1V0.3H0.3V1H-0.3V0.3H-1V-0.3H-0.3Z","filled":true,"size":28,"color":"#FFC000","opacity":1}},
    {"transform":[{"filter":"datum.s==='PC5'"}],"mark":{"type":"point","shape":"M-1,-0.6L-0.6,-1L0,-0.4L0.6,-1L1,-0.6L0.4,0L1,0.6L0.6,1L0,0.4L-0.6,1L-1,0.6L-0.4,0Z","filled":true,"size":28,"color":"#5B9BD5","opacity":1}},
    {"transform":[{"filter":"datum.s==='PC6'"}],"mark":{"type":"point","shape":"circle","filled":true,"size":32,"color":"#70AD47","opacity":1}}
   ]}
 ]
},
{
 "width":360,"height":327,
 "title":{"text":"(d) 6.11 m/s Velocity of impact","offset":9,"dx":45},
 "layer":[
  {"data":{"values":[{}]},"mark":{"type":"rect","fillOpacity":0,"stroke":"#BFBFBF","strokeWidth":1},"encoding":{"x":{"datum":-32.2},"x2":{"datum":121.4},"y":{"datum":10.25},"y2":{"datum":-1.89}}},
  {"data":{"name":"d"},
   "encoding":{
    "x":{"field":"t","type":"quantitative","scale":{"domain":[0,100],"nice":false,"zero":false},"axis":{"values":[0,30,60,90],"tickCount":40,"title":"Time (msec)","labelFontSize":16,"labelColor":"#404040","labelPadding":1,"titleFontSize":16,"titleFontWeight":"normal","titleColor":"#333333","titlePadding":4}},
    "y":{"field":"v","type":"quantitative","scale":{"domain":[-0.5,9.5],"nice":false,"zero":false},"axis":{"values":[-0.5,0.5,1.5,2.5,3.5,4.5,5.5,6.5,7.5,8.5,9.5],"tickCount":40,"format":".2f","title":"Load (KN)","grid":true,"gridColor":"#D0D0D0","labelFontSize":16,"labelColor":"#404040","labelPadding":23,"titleFontSize":17,"titleFontWeight":"normal","titleColor":"#333333","titlePadding":25}}
   },
   "layer":[
    {"data":{"values":[{"s":"PC1"},{"s":"PC2"},{"s":"PC3"},{"s":"PC4"},{"s":"PC5"},{"s":"PC6"}]},"mark":{"type":"point","filled":true,"size":0},"encoding":{"color":{"field":"s","type":"nominal","scale":{"domain":["PC1","PC2","PC3","PC4","PC5","PC6"],"range":["#4472C4","#ED7D31","#A5A5A5","#FFC000","#5B9BD5","#70AD47"]},"legend":{"orient":"none","legendX":290,"legendY":39.5,"title":null,"symbolSize":2209,"clipHeight":16,"rowPadding":18.4,"labelFontSize":16,"labelOffset":2,"symbolStrokeWidth":2,"symbolOpacity":1}},"shape":{"field":"s","type":"nominal","scale":{"domain":["PC1","PC2","PC3","PC4","PC5","PC6"],"range":["M-1,0H1M0,-0.12L0.12,0L0,0.12L-0.12,0Z","M-1,0H1M-0.1,-0.1H0.1V0.1H-0.1Z","M-1,0H1M0,-0.12L0.12,0.1H-0.12Z","M-1,0H1M0,-0.1V0.1","M-1,0H1M-0.09,-0.09L0.09,0.09M-0.09,0.09L0.09,-0.09","M-1,0H1M-0.11,0A0.11,0.11,0,1,1,0.11,0A0.11,0.11,0,1,1,-0.11,0Z"]}}}},
    {"mark":{"type":"line","strokeWidth":1.8},"encoding":{"color":{"field":"s","type":"nominal","scale":{"domain":["PC1","PC2","PC3","PC4","PC5","PC6"],"range":["#4472C4","#ED7D31","#A5A5A5","#FFC000","#5B9BD5","#70AD47"]}}}},
    {"transform":[{"filter":"datum.s==='PC1'"}],"mark":{"type":"point","shape":"diamond","filled":true,"size":14,"color":"#4472C4","opacity":1}},
    {"transform":[{"filter":"datum.s==='PC2'"}],"mark":{"type":"point","shape":"square","filled":true,"size":12,"color":"#ED7D31","opacity":1}},
    {"transform":[{"filter":"datum.s==='PC3'"}],"mark":{"type":"point","shape":"triangle-up","filled":true,"size":14,"color":"#A5A5A5","opacity":1}},
    {"transform":[{"filter":"datum.s==='PC4'"}],"mark":{"type":"point","shape":"M-0.3,-1H0.3V-0.3H1V0.3H0.3V1H-0.3V0.3H-1V-0.3H-0.3Z","filled":true,"size":14,"color":"#FFC000","opacity":1}},
    {"transform":[{"filter":"datum.s==='PC5'"}],"mark":{"type":"point","shape":"M-1,-0.6L-0.6,-1L0,-0.4L0.6,-1L1,-0.6L0.4,0L1,0.6L0.6,1L0,0.4L-0.6,1L-1,0.6L-0.4,0Z","filled":true,"size":14,"color":"#5B9BD5","opacity":1}},
    {"transform":[{"filter":"datum.s==='PC6'"}],"mark":{"type":"point","shape":"circle","filled":true,"size":16,"color":"#70AD47","opacity":1}}
   ]}
 ]
}
]
}
